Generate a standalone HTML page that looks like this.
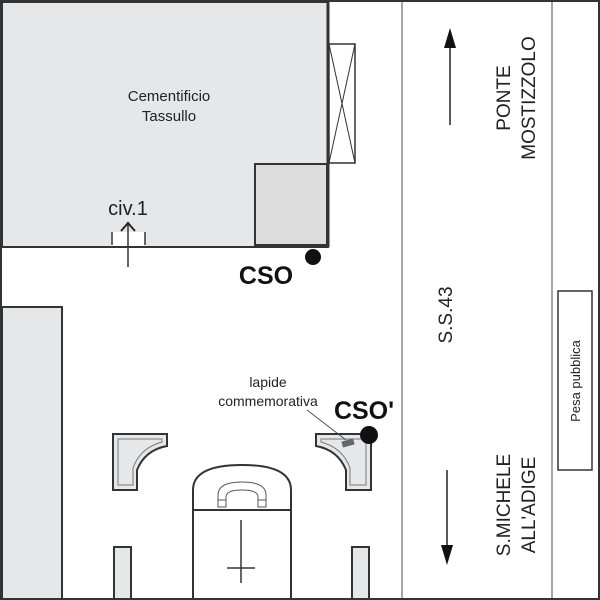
<!DOCTYPE html>
<html><head><style>
html,body{margin:0;padding:0;background:#fff}
svg{display:block}
text{font-family:"Liberation Sans",sans-serif;fill:#222}
</style></head><body>
<svg width="600" height="600" viewBox="0 0 600 600">
<rect x="0" y="0" width="600" height="600" fill="#fff"/>
<line x1="402" y1="0" x2="402" y2="600" stroke="#888" stroke-width="1.5"/>
<line x1="552" y1="0" x2="552" y2="600" stroke="#888" stroke-width="1.5"/>
<rect x="2" y="2" width="326" height="245" fill="#e6e7e9" stroke="#333" stroke-width="2"/>
<line x1="328" y1="2" x2="328" y2="247" stroke="#333" stroke-width="3"/>
<rect x="255" y="164" width="72" height="81" fill="#dcdcdc" stroke="#333" stroke-width="2"/>
<rect x="329" y="44" width="26" height="119" fill="#fff" stroke="#333" stroke-width="1.5"/>
<line x1="329" y1="44" x2="355" y2="163" stroke="#333" stroke-width="1"/>
<line x1="355" y1="44" x2="329" y2="163" stroke="#333" stroke-width="1"/>
<text x="169" y="101" font-size="15" text-anchor="middle">Cementificio</text>
<text x="169" y="121" font-size="15" text-anchor="middle">Tassullo</text>
<rect x="111" y="232" width="34" height="14" fill="#fff"/>
<line x1="112" y1="232" x2="112" y2="245" stroke="#333" stroke-width="1.5"/>
<line x1="145" y1="232" x2="145" y2="245" stroke="#333" stroke-width="1.5"/>
<line x1="128" y1="224" x2="128" y2="267" stroke="#333" stroke-width="1.5"/>
<polyline points="121,231 128,223 135,231" fill="none" stroke="#222" stroke-width="2"/>
<text x="128" y="215" font-size="20" text-anchor="middle">civ.1</text>
<circle cx="313" cy="257" r="8" fill="#111"/>
<text x="266" y="284" font-size="25" font-weight="bold" text-anchor="middle" style="fill:#111">CSO</text>
<rect x="2" y="307" width="60" height="292" fill="#e6e7e9" stroke="#333" stroke-width="2"/>
<path d="M113,434 H167 V446 Q145,450 137,470 V490 H113 Z" fill="#e6e7e9" stroke="#333" stroke-width="2"/>
<path d="M118,439 H162 V442 Q140,448 133,468 V485 H118 Z" fill="none" stroke="#777" stroke-width="1"/>
<path d="M371,434 H316 V446 Q338,450 346,470 V490 H371 Z" fill="#e6e7e9" stroke="#333" stroke-width="2"/>
<path d="M366,439 H321 V442 Q343,448 350,468 V485 H366 Z" fill="none" stroke="#777" stroke-width="1"/>
<rect x="342" y="440" width="12" height="6" fill="#666" transform="rotate(-15 348 443)"/>
<line x1="307" y1="410" x2="346" y2="440" stroke="#444" stroke-width="0.8"/>
<text x="268" y="387" font-size="14" text-anchor="middle">lapide</text>
<text x="268" y="406" font-size="14" text-anchor="middle">commemorativa</text>
<circle cx="369" cy="435" r="9" fill="#111"/>
<text x="364" y="419" font-size="25" font-weight="bold" text-anchor="middle" style="fill:#111">CSO'</text>
<path d="M193,510 V490 Q193,465 242,465 Q291,465 291,490 V510 Z" fill="#fff" stroke="#333" stroke-width="2"/>
<rect x="193" y="510" width="98" height="90" fill="#fff" stroke="#333" stroke-width="2"/>
<path d="M218,507 V495 Q218,482 242,482 Q266,482 266,495 V507 H258 V497 Q258,490 242,490 Q226,490 226,497 V507 Z" fill="#fff" stroke="#555" stroke-width="1"/>
<line x1="218" y1="500" x2="226" y2="500" stroke="#555"/>
<line x1="258" y1="500" x2="266" y2="500" stroke="#555"/>
<line x1="241" y1="520" x2="241" y2="583" stroke="#333" stroke-width="1.5"/>
<line x1="227" y1="568" x2="255" y2="568" stroke="#333" stroke-width="1.5"/>
<rect x="114" y="547" width="17" height="52" fill="#e6e7e9" stroke="#333" stroke-width="2"/>
<rect x="352" y="547" width="17" height="52" fill="#e6e7e9" stroke="#333" stroke-width="2"/>
<line x1="450" y1="42" x2="450" y2="125" stroke="#222" stroke-width="1.5"/>
<polygon points="444,48 450,28 456,48" fill="#111"/>
<line x1="447" y1="470" x2="447" y2="550" stroke="#222" stroke-width="1.5"/>
<polygon points="441,545 447,565 453,545" fill="#111"/>
<text transform="translate(510,98) rotate(-90)" font-size="19" text-anchor="middle">PONTE</text>
<text transform="translate(535,98) rotate(-90)" font-size="19" text-anchor="middle">MOSTIZZOLO</text>
<text transform="translate(452,315) rotate(-90)" font-size="19" text-anchor="middle">S.S.43</text>
<text transform="translate(510,505) rotate(-90)" font-size="19" text-anchor="middle">S.MICHELE</text>
<text transform="translate(535,505) rotate(-90)" font-size="19" text-anchor="middle">ALL'ADIGE</text>
<rect x="558" y="291" width="34" height="179" fill="#fff" stroke="#333" stroke-width="1.5"/>
<text transform="translate(580,381) rotate(-90)" font-size="13" text-anchor="middle">Pesa pubblica</text>
<rect x="1" y="1" width="598" height="598" fill="none" stroke="#333" stroke-width="2"/>
</svg>
</body></html>
